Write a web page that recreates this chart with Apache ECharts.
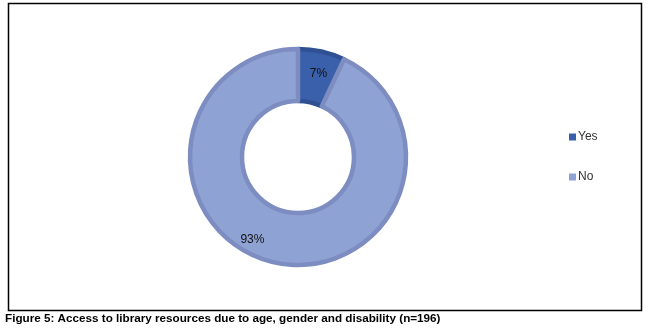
<!DOCTYPE html>
<html>
<head>
<meta charset="utf-8">
<script src="https://cdn.jsdelivr.net/npm/echarts@6/dist/echarts.min.js"></script>
<style>
  html, body { margin: 0; padding: 0; background: #fff; }
  #chart { width: 654px; height: 336px; }
</style>
</head>
<body>
<div id="chart"></div>
<script>
// data
const categories = ['Yes', 'No'];
const shares = [7, 93];
const fillColors = ['#3b60ab', '#8fa2d4'];
const edgeColors = ['#2f5194', '#7d8dc1'];
const caption = 'Figure 5: Access to library resources due to age, gender and disability (n=196)';

const chart = echarts.init(document.getElementById('chart'), null, { renderer: 'canvas' });

chart.setOption({
  animation: false,
  textStyle: { fontFamily: '"Liberation Sans", Arial, sans-serif' },
  title: {
    text: caption,
    left: 5,
    top: 313,
    padding: 0,
    textStyle: { fontSize: 11.7, fontWeight: 'bold', color: '#000' }
  },
  legend: {
    orient: 'vertical',
    left: 564,
    top: 126,
    itemWidth: 7,
    itemHeight: 7,
    itemGap: 28,
    icon: 'rect',
    data: categories,
    itemStyle: { borderWidth: 0 },
    textStyle: { fontSize: 12, color: '#333', padding: [0, 0, 0, -3] }
  },
  graphic: [{
    type: 'rect',
    shape: { x: 8.5, y: 3.5, width: 633, height: 307 },
    style: { fill: 'none', stroke: '#000', lineWidth: 1.5 },
    silent: true
  }],
  series: [{
    type: 'pie',
    center: [298, 157],
    radius: [56, 108],
    startAngle: 90,
    clockwise: true,
    label: {
      show: true,
      position: 'inside',
      formatter: '{c}%',
      fontSize: 12,
      color: '#111'
    },
    labelLine: { show: false },
    emphasis: { disabled: true },
    data: categories.map((name, i) => ({
      name: name,
      value: shares[i],
      itemStyle: { color: fillColors[i], borderColor: edgeColors[i], borderWidth: 4.5 },
      label: i === 1 ? { padding: [0, 54, 0, 0] } : { padding: [16, 0, 0, 4] }
    }))
  }]
});
</script>
</body>
</html>
